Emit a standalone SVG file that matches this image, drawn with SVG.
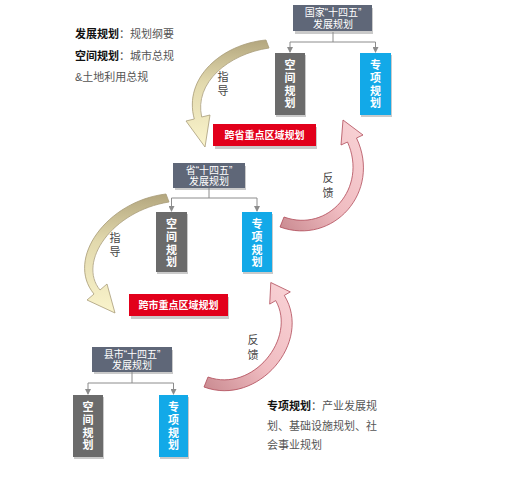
<svg xmlns="http://www.w3.org/2000/svg" width="506" height="478" viewBox="0 0 506 478">
<defs>
<style>
.t{font-family:"Liberation Sans","Noto Sans CJK SC",sans-serif;}
.w{fill:#fff;font-size:10px;text-anchor:middle;font-family:"Liberation Sans","Noto Sans CJK SC",sans-serif;}
.v{fill:#fff;font-size:11px;text-anchor:middle;font-weight:bold;font-family:"Liberation Sans","Noto Sans CJK SC",sans-serif;}
.lab{fill:#444;font-size:11px;text-anchor:middle;font-family:"Liberation Sans","Noto Sans CJK SC",sans-serif;}
.note{fill:#555;font-size:11px;font-family:"Liberation Sans","Noto Sans CJK SC",sans-serif;}
.nb{fill:#111;font-weight:bold;}
.slate{fill:#5f6778;}
.gray{fill:#6b6b6b;}
.blue{fill:#12a9e8;}
.red{fill:#e2001b;}
.sh{fill:#8a8a8a;opacity:0.45;}
.con{fill:none;stroke:#8c8c8c;stroke-width:1;}
.guide{fill:url(#gGuide);stroke:#a89c78;stroke-width:0.8;}
.fb{fill:url(#gFb);stroke:#b04a58;stroke-width:0.8;}
</style>
<linearGradient id="gGuide" x1="0" y1="0" x2="0" y2="1">
<stop offset="0" stop-color="#b3a67e"/>
<stop offset="0.4" stop-color="#e2d9ad"/>
<stop offset="1" stop-color="#faf4cc"/>
</linearGradient>
<linearGradient id="gFb" x1="0" y1="1" x2="1" y2="0">
<stop offset="0" stop-color="#c98a90"/>
<stop offset="0.45" stop-color="#f0bcc1"/>
<stop offset="1" stop-color="#f9d3d6"/>
</linearGradient>
<marker id="ah" markerWidth="6" markerHeight="6" refX="5" refY="3" orient="auto" markerUnits="userSpaceOnUse">
<path d="M0,0 L6,3 L0,6 Z" fill="#8c8c8c"/>
</marker>
</defs>
<rect width="506" height="478" fill="#fff"/>

<g id="notes">
<text class="note" x="75" y="38"><tspan class="nb">发展规划</tspan>：规划纲要</text>
<text class="note" x="75" y="60"><tspan class="nb">空间规划</tspan>：城市总规</text>
<text class="note" x="75" y="81">&amp;土地利用总规</text>
<text class="note" x="267" y="410"><tspan class="nb">专项规划</tspan>：产业发展规</text>
<text class="note" x="267" y="430">划、基础设施规划、社</text>
<text class="note" x="267" y="449">会事业规划</text>
</g>

<g id="connectors">
<path class="con" d="M333 32 V42 M290 42 H375.5" />
<path class="con" d="M290 42 V52" marker-end="url(#ah)"/>
<path class="con" d="M375.5 42 V52" marker-end="url(#ah)"/>
<path class="con" d="M209 188 V198 M171.5 198 H257" />
<path class="con" d="M171.5 198 V211" marker-end="url(#ah)"/>
<path class="con" d="M257 198 V211" marker-end="url(#ah)"/>
<path class="con" d="M132 372 V383 M88 383 H173.5" />
<path class="con" d="M88 383 V394" marker-end="url(#ah)"/>
<path class="con" d="M173.5 383 V394" marker-end="url(#ah)"/>
<path id="guide1" class="guide" d="M266 40 C222 44,183 78,194.3 119 L186 121 L205 147 L210 115 L201.7 117 C194 83,228 54,269 48 Z"/>
<path id="guide2" class="guide" d="M166 194 C107 201,65 259,94 294 L87 300 L115 313 L107 284 L100 290 C77 262,112 211,169 202 Z"/>
<path id="fb1" class="fb" d="M280 227 C333 246,382 192,356.5 138 L363 135 L343 120 L341 145 L347.5 142 C368 188,328 233,284 217 Z"/>
<path id="fb2" class="fb" d="M204 387 C258 407,313 342,284.3 295.4 L290.3 291.9 L270.8 282.5 L269.7 304.1 L275.7 300.6 C297 338,253 393,208 377 Z"/>
<text class="lab" x="223" y="81">指</text>
<text class="lab" x="223" y="95">导</text>
<text class="lab" x="115" y="242">指</text>
<text class="lab" x="115" y="256">导</text>
<text class="lab" x="328" y="182">反</text>
<text class="lab" x="328" y="197">馈</text>
<text class="lab" x="253" y="344">反</text>
<text class="lab" x="253" y="359">馈</text>
</g>

<g id="national">
<rect class="sh" x="295" y="8" width="78" height="26"/>
<rect class="slate" x="293" y="5" width="79" height="26"/>
<text class="w" x="333" y="16">国家“十四五”</text>
<text class="w" x="333" y="28">发展规划</text>
</g>
<g id="national-space">
<rect class="sh" x="276" y="55" width="30" height="62"/>
<rect class="gray" x="275" y="53" width="30" height="62"/>
<text class="v" x="290" y="69">空</text><text class="v" x="290" y="82">间</text><text class="v" x="290" y="94.5">规</text><text class="v" x="290" y="107">划</text>
</g>
<g id="national-special">
<rect class="sh" x="361" y="55" width="31" height="62"/>
<rect class="blue" x="360" y="53" width="31" height="62"/>
<text class="v" x="375.5" y="69">专</text><text class="v" x="375.5" y="82">项</text><text class="v" x="375.5" y="94.5">规</text><text class="v" x="375.5" y="107">划</text>
</g>
<g id="cross-province">
<rect class="sh" x="215" y="127" width="102" height="22"/>
<rect class="red" x="213" y="124" width="103" height="22"/>
<text class="w" x="264.5" y="139" font-weight="bold">跨省重点区域规划</text>
</g>

<g id="province">
<rect class="sh" x="175" y="166" width="71" height="24"/>
<rect class="slate" x="173" y="163" width="72" height="25"/>
<text class="w" x="209" y="174">省“十四五”</text>
<text class="w" x="209" y="185">发展规划</text>
</g>
<g id="province-space">
<rect class="sh" x="157" y="214" width="31" height="60"/>
<rect class="gray" x="156" y="212" width="31" height="60"/>
<text class="v" x="171.5" y="228">空</text><text class="v" x="171.5" y="241">间</text><text class="v" x="171.5" y="253.5">规</text><text class="v" x="171.5" y="266">划</text>
</g>
<g id="province-special">
<rect class="sh" x="243" y="214" width="30" height="60"/>
<rect class="blue" x="242" y="212" width="30" height="60"/>
<text class="v" x="257" y="228">专</text><text class="v" x="257" y="241">项</text><text class="v" x="257" y="253.5">规</text><text class="v" x="257" y="266">划</text>
</g>
<g id="cross-city">
<rect class="sh" x="131" y="297" width="98" height="22"/>
<rect class="red" x="129" y="294" width="99" height="22"/>
<text class="w" x="178.5" y="309" font-weight="bold">跨市重点区域规划</text>
</g>

<g id="county">
<rect class="sh" x="94" y="350" width="79" height="24"/>
<rect class="slate" x="92" y="347" width="80" height="25"/>
<text class="w" x="132" y="358">县市“十四五”</text>
<text class="w" x="132" y="369">发展规划</text>
</g>
<g id="county-space">
<rect class="sh" x="74" y="397" width="30" height="62"/>
<rect class="gray" x="73" y="395" width="30" height="62"/>
<text class="v" x="88" y="411">空</text><text class="v" x="88" y="424">间</text><text class="v" x="88" y="436.5">规</text><text class="v" x="88" y="449">划</text>
</g>
<g id="county-special">
<rect class="sh" x="160" y="397" width="29" height="62"/>
<rect class="blue" x="159" y="395" width="29" height="62"/>
<text class="v" x="173.5" y="411">专</text><text class="v" x="173.5" y="424">项</text><text class="v" x="173.5" y="436.5">规</text><text class="v" x="173.5" y="449">划</text>
</g>
</svg>
